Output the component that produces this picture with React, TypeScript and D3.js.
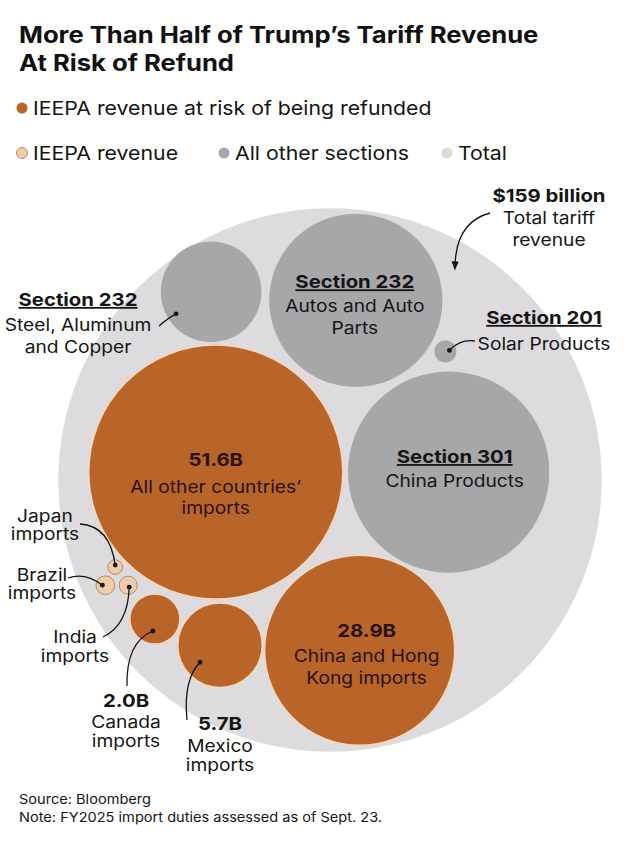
import React from "react";
import * as d3 from "d3";

// ---------- data ----------
const categories = [
  "All other countries' imports",
  "Section 301 China Products",
  "China and Hong Kong imports",
  "Section 232 Autos and Auto Parts",
  "Section 232 Steel, Aluminum and Copper",
  "Mexico imports",
  "Canada imports",
  "Section 201 Solar Products",
  "India imports",
  "Japan imports",
  "Brazil imports",
];
const groups = ["risk", "other", "risk", "other", "other", "risk", "risk", "other", "ieepa", "ieepa", "ieepa"];
const valuesB = [51.6, 32.4, 28.9, 24.0, 8.1, 5.7, 2.0, 0.39, 0.26, 0.17, 0.28];
const totalB = 159;
const titleLines = ["More Than Half of Trump’s Tariff Revenue", "At Risk of Refund"];
const legendLabels = ["IEEPA revenue at risk of being refunded", "IEEPA revenue", "All other sections", "Total"];
const legendGroups = ["risk", "ieepa", "other", "total"];
const noteLines = ["Source: Bloomberg", "Note: FY2025 import duties assessed as of Sept. 23."];

// ---------- packing topology: each bubble rests against two earlier bubbles ----------
// [indexA, indexB, side (+1 right of A→B, -1 left), gap to A, gap to B]
const packTopology: ([number, number, number, number, number] | null)[] = [
  null, // 0 seed
  null, // 1 to the right of 0
  [0, 1, 1, 7, 3.5], // China below
  [0, 1, -1, 8, 8], // Autos above
  [0, 3, -1, 3, 8], // Steel upper left
  [0, 2, 1, 4, 2.5], // Mexico lower left
  [0, 5, 1, 7, 3], // Canada
  [3, 1, -1, 5.5, 9], // Solar
  [0, 6, 1, 7, 9], // India
  [0, 8, 1, 4, 6], // Japan
  [9, 8, 1, 4, 4.5], // Brazil
];
const seedGap = 5.3;

// ---------- styles ----------
const COLORS: Record<string, string> = {
  risk: "#B9652A",
  ieepa: "#EFCDAB",
  other: "#A7A6A9",
  total: "#DDDBDE",
};
const FONT = "Inter, 'Noto Sans', sans-serif";
const INK = "#151515";
const SX = 1.13;

type Line = { t: string; dy: number; b?: boolean; u?: boolean; s?: number; fill?: string };

const inner: Record<string, { dx: number; lines: Line[] }> = {
  "All other countries' imports": {
    dx: 0,
    lines: [
      { t: "51.6B", dy: -6, b: true, s: 18, fill: "#2a1206" },
      { t: "All other countries’", dy: 21, fill: "#2a1206" },
      { t: "imports", dy: 42, fill: "#2a1206" },
    ],
  },
  "Section 301 China Products": {
    dx: 6,
    lines: [
      { t: "Section 301", dy: -9, b: true, u: true, s: 18 },
      { t: "China Products", dy: 15 },
    ],
  },
  "China and Hong Kong imports": {
    dx: 7,
    lines: [
      { t: "28.9B", dy: -13, b: true, s: 18, fill: "#2a1206" },
      { t: "China and Hong", dy: 12, fill: "#2a1206" },
      { t: "Kong imports", dy: 34, fill: "#2a1206" },
    ],
  },
  "Section 232 Autos and Auto Parts": {
    dx: -1,
    lines: [
      { t: "Section 232", dy: -12, b: true, u: true, s: 18 },
      { t: "Autos and Auto", dy: 12 },
      { t: "Parts", dy: 34 },
    ],
  },
};

type Ann = {
  x: number;
  lines: { t: string; y: number; b?: boolean; u?: boolean; s?: number }[];
  target?: string;
  from?: [number, number];
  ctrl?: [number, number];
  dot?: [number, number];
  arrow?: boolean;
  to?: [number, number];
};

const annotations: Ann[] = [
  {
    x: 549,
    lines: [
      { t: `$${totalB} billion`, y: 202, b: true, s: 18 },
      { t: "Total tariff", y: 224 },
      { t: "revenue", y: 246 },
    ],
    from: [490, 213],
    ctrl: [456, 222],
    to: [455, 266],
    arrow: true,
  },
  {
    x: 78,
    lines: [
      { t: "Section 232", y: 306, b: true, u: true, s: 18 },
      { t: "Steel, Aluminum", y: 331 },
      { t: "and Copper", y: 353 },
    ],
    target: "Section 232 Steel, Aluminum and Copper",
    from: [159, 326],
    ctrl: [168, 318],
    dot: [-35, 22],
  },
  {
    x: 544,
    lines: [
      { t: "Section 201", y: 324, b: true, u: true, s: 18 },
      { t: "Solar Products", y: 350 },
    ],
    target: "Section 201 Solar Products",
    from: [475, 341],
    ctrl: [460, 339],
    dot: [4, -1],
  },
  {
    x: 45,
    lines: [
      { t: "Japan", y: 522 },
      { t: "imports", y: 540 },
    ],
    target: "Japan imports",
    from: [80, 524],
    ctrl: [110, 526],
    dot: [0, -2],
  },
  {
    x: 42,
    lines: [
      { t: "Brazil", y: 581 },
      { t: "imports", y: 599 },
    ],
    target: "Brazil imports",
    from: [68, 578],
    ctrl: [85, 572],
    dot: [-3, 0],
  },
  {
    x: 75,
    lines: [
      { t: "India", y: 643 },
      { t: "imports", y: 662 },
    ],
    target: "India imports",
    from: [103, 637],
    ctrl: [128, 625],
    dot: [1, 2],
  },
  {
    x: 126,
    lines: [
      { t: "2.0B", y: 707, b: true, s: 18 },
      { t: "Canada", y: 728 },
      { t: "imports", y: 747 },
    ],
    target: "Canada imports",
    from: [127, 686],
    ctrl: [126, 642],
    dot: [-2, 12],
  },
  {
    x: 220,
    lines: [
      { t: "5.7B", y: 730, b: true, s: 18 },
      { t: "Mexico", y: 752 },
      { t: "imports", y: 771 },
    ],
    target: "Mexico imports",
    from: [187, 720],
    ctrl: [183, 680],
    dot: [-20, 17],
  },
];

type Circ = { x: number; y: number; r: number };

function placeTangent(a: Circ, b: Circ, r: number, side: number, gapA: number, gapB: number): [number, number] {
  const ra = a.r + r + gapA;
  const rb = b.r + r + gapB;
  const dx = b.x - a.x;
  const dy = b.y - a.y;
  const d = Math.hypot(dx, dy);
  const x = (d * d + ra * ra - rb * rb) / (2 * d);
  const h = Math.sqrt(Math.max(0, ra * ra - x * x));
  const ux = dx / d;
  const uy = dy / d;
  return [a.x + ux * x - side * uy * h, a.y + uy * x + side * ux * h];
}

function T(props: {
  x: number;
  y: number;
  anchor?: string;
  size?: number;
  bold?: boolean;
  underline?: boolean;
  fill?: string;
  sx?: number;
  children: React.ReactNode;
}) {
  const { x, y, anchor = "start", size = 17, bold, underline, fill = INK, sx = SX, children } = props;
  return (
    <text
      transform={`translate(${x},${y}) scale(${sx},1)`}
      textAnchor={anchor}
      fontSize={size}
      fontWeight={bold ? 700 : 400}
      textDecoration={underline ? "underline" : undefined}
      fill={fill}
    >
      {children}
    </text>
  );
}

export default function App() {
  const W = 635;
  const H = 842;
  const CENTER: [number, number] = [330, 480];
  const GROUP_SHIFT: [number, number] = [-7, 0];

  const rScale = d3.scaleSqrt().domain([0, d3.max(valuesB) as number]).range([0, 127]);

  const circles: (Circ & { name: string; group: string })[] = [];
  valuesB.forEach((v, i) => {
    const r = rScale(v);
    let x = 0;
    let y = 0;
    if (i === 1) {
      x = circles[0].r + r + seedGap;
    } else if (i > 1) {
      const [a, b, side, ga, gb] = packTopology[i] as [number, number, number, number, number];
      [x, y] = placeTangent(circles[a], circles[b], r, side, ga, gb);
    }
    circles.push({ x, y, r, name: categories[i], group: groups[i] });
  });
  const enc = d3.packEnclose(circles) as Circ;
  const tx = CENTER[0] - enc.x + GROUP_SHIFT[0];
  const ty = CENTER[1] - enc.y + GROUP_SHIFT[1];
  const nodes = circles.map((c) => ({ ...c, x: c.x + tx, y: c.y + ty }));
  const totalR = enc.r + 2.5;
  const byName: Record<string, (typeof nodes)[number]> = {};
  nodes.forEach((n) => (byName[n.name] = n));

  const curve = (a: [number, number], c: [number, number], b: [number, number]) => {
    const p = d3.path();
    p.moveTo(a[0], a[1]);
    p.quadraticCurveTo(c[0], c[1], b[0], b[1]);
    return p.toString();
  };

  const legendRows = [
    [{ i: 0, x: 22 }],
    [
      { i: 1, x: 22 },
      { i: 2, x: 224 },
      { i: 3, x: 447 },
    ],
  ];
  const legendY = [108, 153];

  return (
    <svg
      width={W}
      height={H}
      viewBox={`0 0 ${W} ${H}`}
      style={{ position: "absolute", left: 0, top: 0, background: "#fff", fontFamily: FONT }}
    >
      <defs>
        <marker id="arr" viewBox="0 0 10 10" refX="5" refY="5" markerWidth="7" markerHeight="7" orient="auto">
          <path d="M0,1 L10,5 L0,9 Z" fill={INK} />
        </marker>
      </defs>
      <rect width={W} height={H} fill="#fff" />

      {titleLines.map((t, i) => (
        <T key={t} x={19} y={43 + i * 28} size={22.5} bold fill="#111" sx={1.14}>
          {t}
        </T>
      ))}

      {legendRows.map((row, ri) =>
        row.map(({ i, x }) => (
          <g key={i}>
            <circle
              cx={x}
              cy={legendY[ri]}
              r={5.5}
              fill={COLORS[legendGroups[i]]}
              stroke={legendGroups[i] === "ieepa" ? "#B98A60" : "none"}
              strokeWidth={1}
            />
            <T x={x + 11} y={legendY[ri] + 7} size={19} sx={1.12}>
              {legendLabels[i]}
            </T>
          </g>
        ))
      )}

      <circle cx={CENTER[0]} cy={CENTER[1]} r={totalR} fill={COLORS.total} />

      {nodes.map((l) => (
        <circle
          key={l.name}
          cx={l.x}
          cy={l.y}
          r={l.r}
          fill={COLORS[l.group]}
          stroke={l.group === "risk" ? "#F6D7B9" : l.group === "ieepa" ? "#B98A60" : "none"}
          strokeWidth={l.group === "risk" ? 1.5 : 1}
        />
      ))}

      {Object.entries(inner).map(([name, cfg]) => {
        const n = byName[name];
        if (!n) return null;
        return (
          <g key={name}>
            {cfg.lines.map((ln) => (
              <T
                key={ln.t}
                x={n.x + cfg.dx}
                y={n.y + ln.dy}
                anchor="middle"
                size={ln.s ?? 17}
                bold={ln.b}
                underline={ln.u}
                fill={ln.fill ?? INK}
              >
                {ln.t}
              </T>
            ))}
          </g>
        );
      })}

      {annotations.map((a, ai) => {
        let end: [number, number] | undefined = a.to;
        if (a.target && byName[a.target] && a.dot) {
          const n = byName[a.target];
          end = [n.x + a.dot[0], n.y + a.dot[1]];
        }
        return (
          <g key={ai}>
            {a.lines.map((ln) => (
              <T key={ln.t} x={a.x} y={ln.y} anchor="middle" size={ln.s ?? 17} bold={ln.b} underline={ln.u}>
                {ln.t}
              </T>
            ))}
            {a.from && a.ctrl && end && (
              <path
                d={curve(a.from, a.ctrl, end)}
                fill="none"
                stroke={INK}
                strokeWidth={1.3}
                markerEnd={a.arrow ? "url(#arr)" : undefined}
              />
            )}
            {!a.arrow && end && <circle cx={end[0]} cy={end[1]} r={2.4} fill={INK} />}
          </g>
        );
      })}

      {noteLines.map((t, i) => (
        <T key={t} x={19} y={804 + i * 18} size={13.5} sx={1.08}>
          {t}
        </T>
      ))}
    </svg>
  );
}
